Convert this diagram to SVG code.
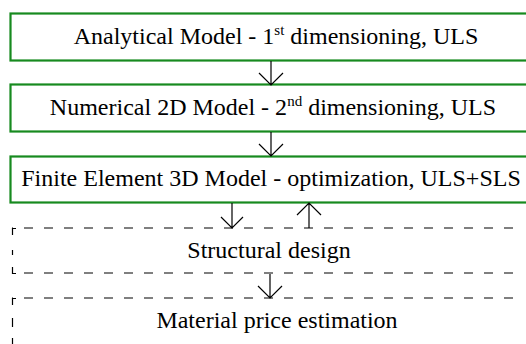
<svg xmlns="http://www.w3.org/2000/svg" width="526" height="344" viewBox="0 0 526 344">
<style>
.box{fill:#fff;stroke:#178a1f;stroke-width:2.2}
.dash{fill:none;stroke:#000;stroke-width:1.2;stroke-dasharray:9 11}
.t{font-family:"Liberation Serif","Times New Roman",serif;font-size:24px;fill:#000;text-anchor:middle}
.sup{font-size:15px}
.c{fill:none;stroke:#000;stroke-width:1.2}
</style>
<rect width="526" height="344" fill="#fff"/>
<g id="n1">
<rect class="box" x="10.5" y="13.5" width="540" height="47"/>
<text class="t" x="276" y="44">Analytical Model - 1<tspan class="sup" dy="-9">st</tspan><tspan dy="9"> dimensioning, ULS</tspan></text>
</g>
<g id="n2">
<rect class="box" x="10.5" y="84.5" width="540" height="47"/>
<text class="t" x="273" y="115">Numerical 2D Model - 2<tspan class="sup" dy="-9">nd</tspan><tspan dy="9"> dimensioning, ULS</tspan></text>
</g>
<g id="n3">
<rect class="box" x="10.5" y="156.5" width="540" height="46"/>
<text class="t" x="271" y="186">Finite Element 3D Model - optimization, ULS+SLS</text>
</g>
<g id="n4">
<line class="dash" x1="12" y1="228" x2="520" y2="228" stroke-dashoffset="-12"/>
<line class="dash" x1="12" y1="273" x2="520" y2="273" stroke-dashoffset="-12"/>
<path class="c" d="M12.5 235 V228.5 H16"/>
<path class="c" d="M12.5 267 V273.5 H16"/>
<line class="c" x1="12.5" y1="250" x2="12.5" y2="255"/>
<text class="t" x="269" y="258">Structural design</text>
</g>
<g id="n5">
<line class="dash" x1="12" y1="298" x2="520" y2="298" stroke-dashoffset="-12"/>
<path class="c" d="M12.5 305 V298.5 H16"/>
<line class="c" x1="12.5" y1="318" x2="12.5" y2="327"/>
<line class="c" x1="12.5" y1="338" x2="12.5" y2="344"/>
<text class="t" x="277" y="328">Material price estimation</text>
</g>
<g id="connectors">
<path class="c" d="M271 61 V85 M259 73 L271 85 L283 73"/>
<path class="c" d="M271 132 V156 M259 144 L271 156 L283 144"/>
<path class="c" d="M232 203 V228 M221 217 L232 228 L243 217"/>
<path class="c" d="M309 228 V203 M297 215 L309 203 L321 215"/>
<path class="c" d="M270 274 V298 M258 286 L270 298 L282 286"/>
</g>
</svg>
